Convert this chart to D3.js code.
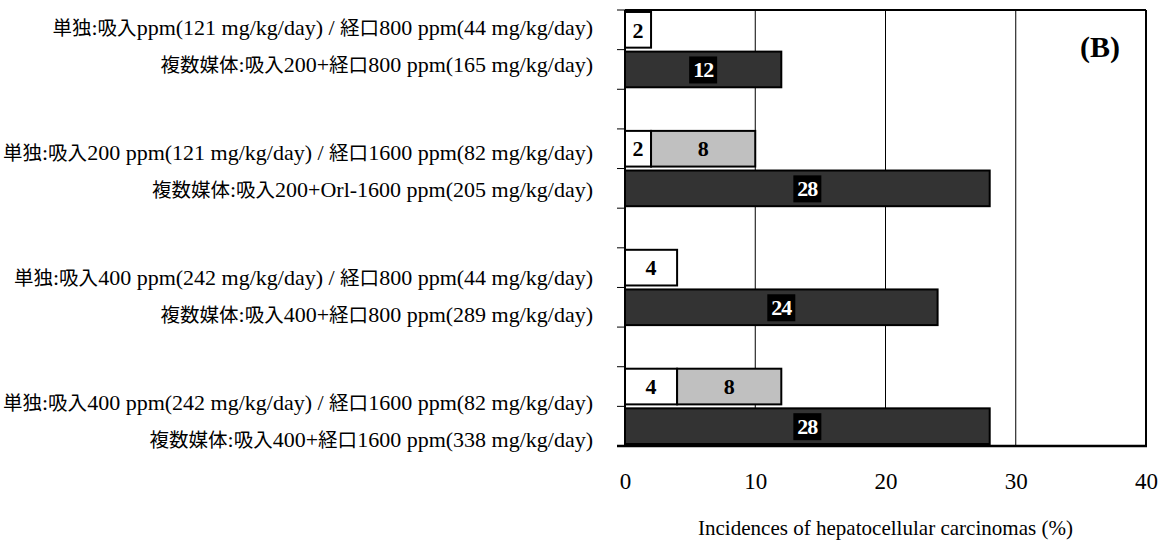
<!DOCTYPE html>
<html>
<head>
<meta charset="utf-8">
<script src="https://cdn.jsdelivr.net/npm/d3@7"></script>
<style>
  body { margin: 0; background: #fff; }
  svg { display: block; }
  text { font-family: "Liberation Serif", "Noto Sans CJK JP", serif; }
</style>
</head>
<body>
<svg id="chart" width="1162" height="541"></svg>
<script>
// ---- data ----
const groups = ["g1", "g2", "g3", "g4"];
const singleLabels = [
  "単独:吸入ppm(121 mg/kg/day) / 経口800 ppm(44 mg/kg/day)",
  "単独:吸入200 ppm(121 mg/kg/day) / 経口1600 ppm(82 mg/kg/day)",
  "単独:吸入400 ppm(242 mg/kg/day) / 経口800 ppm(44 mg/kg/day)",
  "単独:吸入400 ppm(242 mg/kg/day) / 経口1600 ppm(82 mg/kg/day)"
];
const multiLabels = [
  "複数媒体:吸入200+経口800 ppm(165 mg/kg/day)",
  "複数媒体:吸入200+Orl-1600 ppm(205 mg/kg/day)",
  "複数媒体:吸入400+経口800 ppm(289 mg/kg/day)",
  "複数媒体:吸入400+経口1600 ppm(338 mg/kg/day)"
];
const inhalationValues = [2, 2, 4, 4];
const oralValues = [0, 8, 0, 8];
const multiValues = [12, 28, 24, 28];
const xTicks = [0, 10, 20, 30, 40];
const xTitle = "Incidences of hepatocellular carcinomas (%)";
const panelLabel = "(B)";

// ---- layout ----
const svg = d3.select("#chart");
const plot = { left: 625, right: 1146, top: 10, bottom: 446 };

const x = d3.scaleLinear().domain([0, 40]).range([plot.left, plot.right]);

const slots = [];
groups.forEach((g, i) => {
  slots.push(g + "-s", g + "-m");
  if (i < groups.length - 1) slots.push(g + "-gap");
});
const y = d3.scaleBand().domain(slots).range([plot.top, plot.bottom])
  .paddingInner(0.1).paddingOuter(0.05);
const yFull = d3.scaleBand().domain(slots).range([plot.top, plot.bottom]).padding(0);

const yLab = d3.scalePoint().domain(groups).range([28, 403]);
const labOffset = 37;

// ---- grid lines ----
svg.append("g").selectAll("line").data(xTicks.filter(t => t > 0 && t < 40)).join("line")
  .attr("x1", d => x(d)).attr("x2", d => x(d))
  .attr("y1", plot.top).attr("y2", plot.bottom)
  .attr("stroke", "#000").attr("stroke-width", 1);

// ---- left tick marks at band boundaries ----
const boundaries = slots.map(s => yFull(s)).concat([plot.bottom]);
svg.append("g").selectAll("line").data(boundaries).join("line")
  .attr("x1", plot.left - 8).attr("x2", plot.left)
  .attr("y1", d => d).attr("y2", d => d)
  .attr("stroke", "#000").attr("stroke-width", 1);

// ---- bars ----
const barG = svg.append("g");
const stroke = 2;
const valSize = 22;
groups.forEach((g, i) => {
  const ys = y(g + "-s"), ym = y(g + "-m"), h = y.bandwidth();
  barG.append("rect")
    .attr("x", x(0)).attr("y", ys)
    .attr("width", x(inhalationValues[i]) - x(0)).attr("height", h)
    .attr("fill", "#fff").attr("stroke", "#000").attr("stroke-width", stroke);
  barG.append("text")
    .attr("x", (x(0) + x(inhalationValues[i])) / 2).attr("y", ys + h / 2)
    .attr("dy", "0.35em").attr("text-anchor", "middle")
    .attr("font-weight", "bold").attr("font-size", valSize).attr("fill", "#000")
    .text(inhalationValues[i]);
  if (oralValues[i] > 0) {
    const x0 = x(inhalationValues[i]), x1 = x(inhalationValues[i] + oralValues[i]);
    barG.append("rect")
      .attr("x", x0).attr("y", ys).attr("width", x1 - x0).attr("height", h)
      .attr("fill", "#c0c0c0").attr("stroke", "#000").attr("stroke-width", stroke);
    barG.append("text")
      .attr("x", (x0 + x1) / 2).attr("y", ys + h / 2)
      .attr("dy", "0.35em").attr("text-anchor", "middle")
      .attr("font-weight", "bold").attr("font-size", valSize).attr("fill", "#000")
      .text(oralValues[i]);
  }
  barG.append("rect")
    .attr("x", x(0)).attr("y", ym)
    .attr("width", x(multiValues[i]) - x(0)).attr("height", h)
    .attr("fill", "#333333").attr("stroke", "#000").attr("stroke-width", stroke);
  const cx = (x(0) + x(multiValues[i])) / 2, cy = ym + h / 2;
  barG.append("rect").attr("fill", "#000")
    .attr("x", cx - 14).attr("y", cy - 13).attr("width", 28).attr("height", 27);
  barG.append("text")
    .attr("x", cx).attr("y", cy)
    .attr("dy", "0.35em").attr("text-anchor", "middle")
    .attr("font-weight", "bold").attr("font-size", valSize).attr("fill", "#fff")
    .attr("letter-spacing", -1)
    .text(multiValues[i]);
});

// ---- frame ----
svg.append("line").attr("x1", plot.left).attr("x2", plot.left)
  .attr("y1", plot.top).attr("y2", plot.bottom).attr("stroke", "#000").attr("stroke-width", 2);
svg.append("line").attr("x1", plot.left).attr("x2", plot.right)
  .attr("y1", plot.top).attr("y2", plot.top).attr("stroke", "#000").attr("stroke-width", 2);
svg.append("line").attr("x1", plot.right).attr("x2", plot.right)
  .attr("y1", plot.top).attr("y2", plot.bottom).attr("stroke", "#000").attr("stroke-width", 2);
svg.append("line").attr("x1", plot.left - 8).attr("x2", plot.right + 1)
  .attr("y1", plot.bottom).attr("y2", plot.bottom).attr("stroke", "#000").attr("stroke-width", 2.5);

// ---- x axis labels ----
const xAxis = d3.axisBottom(x).tickValues(xTicks).tickSize(0).tickPadding(0);
const ax = svg.append("g").attr("transform", `translate(0,${plot.bottom})`).call(xAxis);
ax.select(".domain").remove();
ax.selectAll("text").attr("font-size", 23).attr("fill", "#000")
  .attr("font-family", "Liberation Serif, serif")
  .attr("dy", null).attr("y", 43);

svg.append("text").attr("x", x(20)).attr("y", 535)
  .attr("text-anchor", "middle").attr("font-size", 22)
  .attr("textLength", 375).attr("lengthAdjust", "spacingAndGlyphs")
  .text(xTitle);

// ---- category labels (CJK runs set slightly smaller, as in the original) ----
function writeLabel(sel, str) {
  const runs = str.match(/[\u3000-\u9fff\uff00-\uffef]+|[^\u3000-\u9fff\uff00-\uffef]+/g);
  runs.forEach(r => {
    const cjk = /[\u3000-\u9fff\uff00-\uffef]/.test(r);
    sel.append("tspan").attr("font-size", cjk ? 19.5 : 22).text(r);
  });
}
const labG = svg.append("g").attr("text-anchor", "end").attr("fill", "#000");
groups.forEach((g, i) => {
  writeLabel(labG.append("text").attr("x", 593).attr("y", yLab(g) + 7), singleLabels[i]);
  writeLabel(labG.append("text").attr("x", 593).attr("y", yLab(g) + labOffset + 7), multiLabels[i]);
});

// ---- panel label ----
svg.append("text").attr("x", 1100).attr("y", 57).attr("text-anchor", "middle")
  .attr("font-weight", "bold").attr("font-size", 30).text(panelLabel);
</script>
</body>
</html>
